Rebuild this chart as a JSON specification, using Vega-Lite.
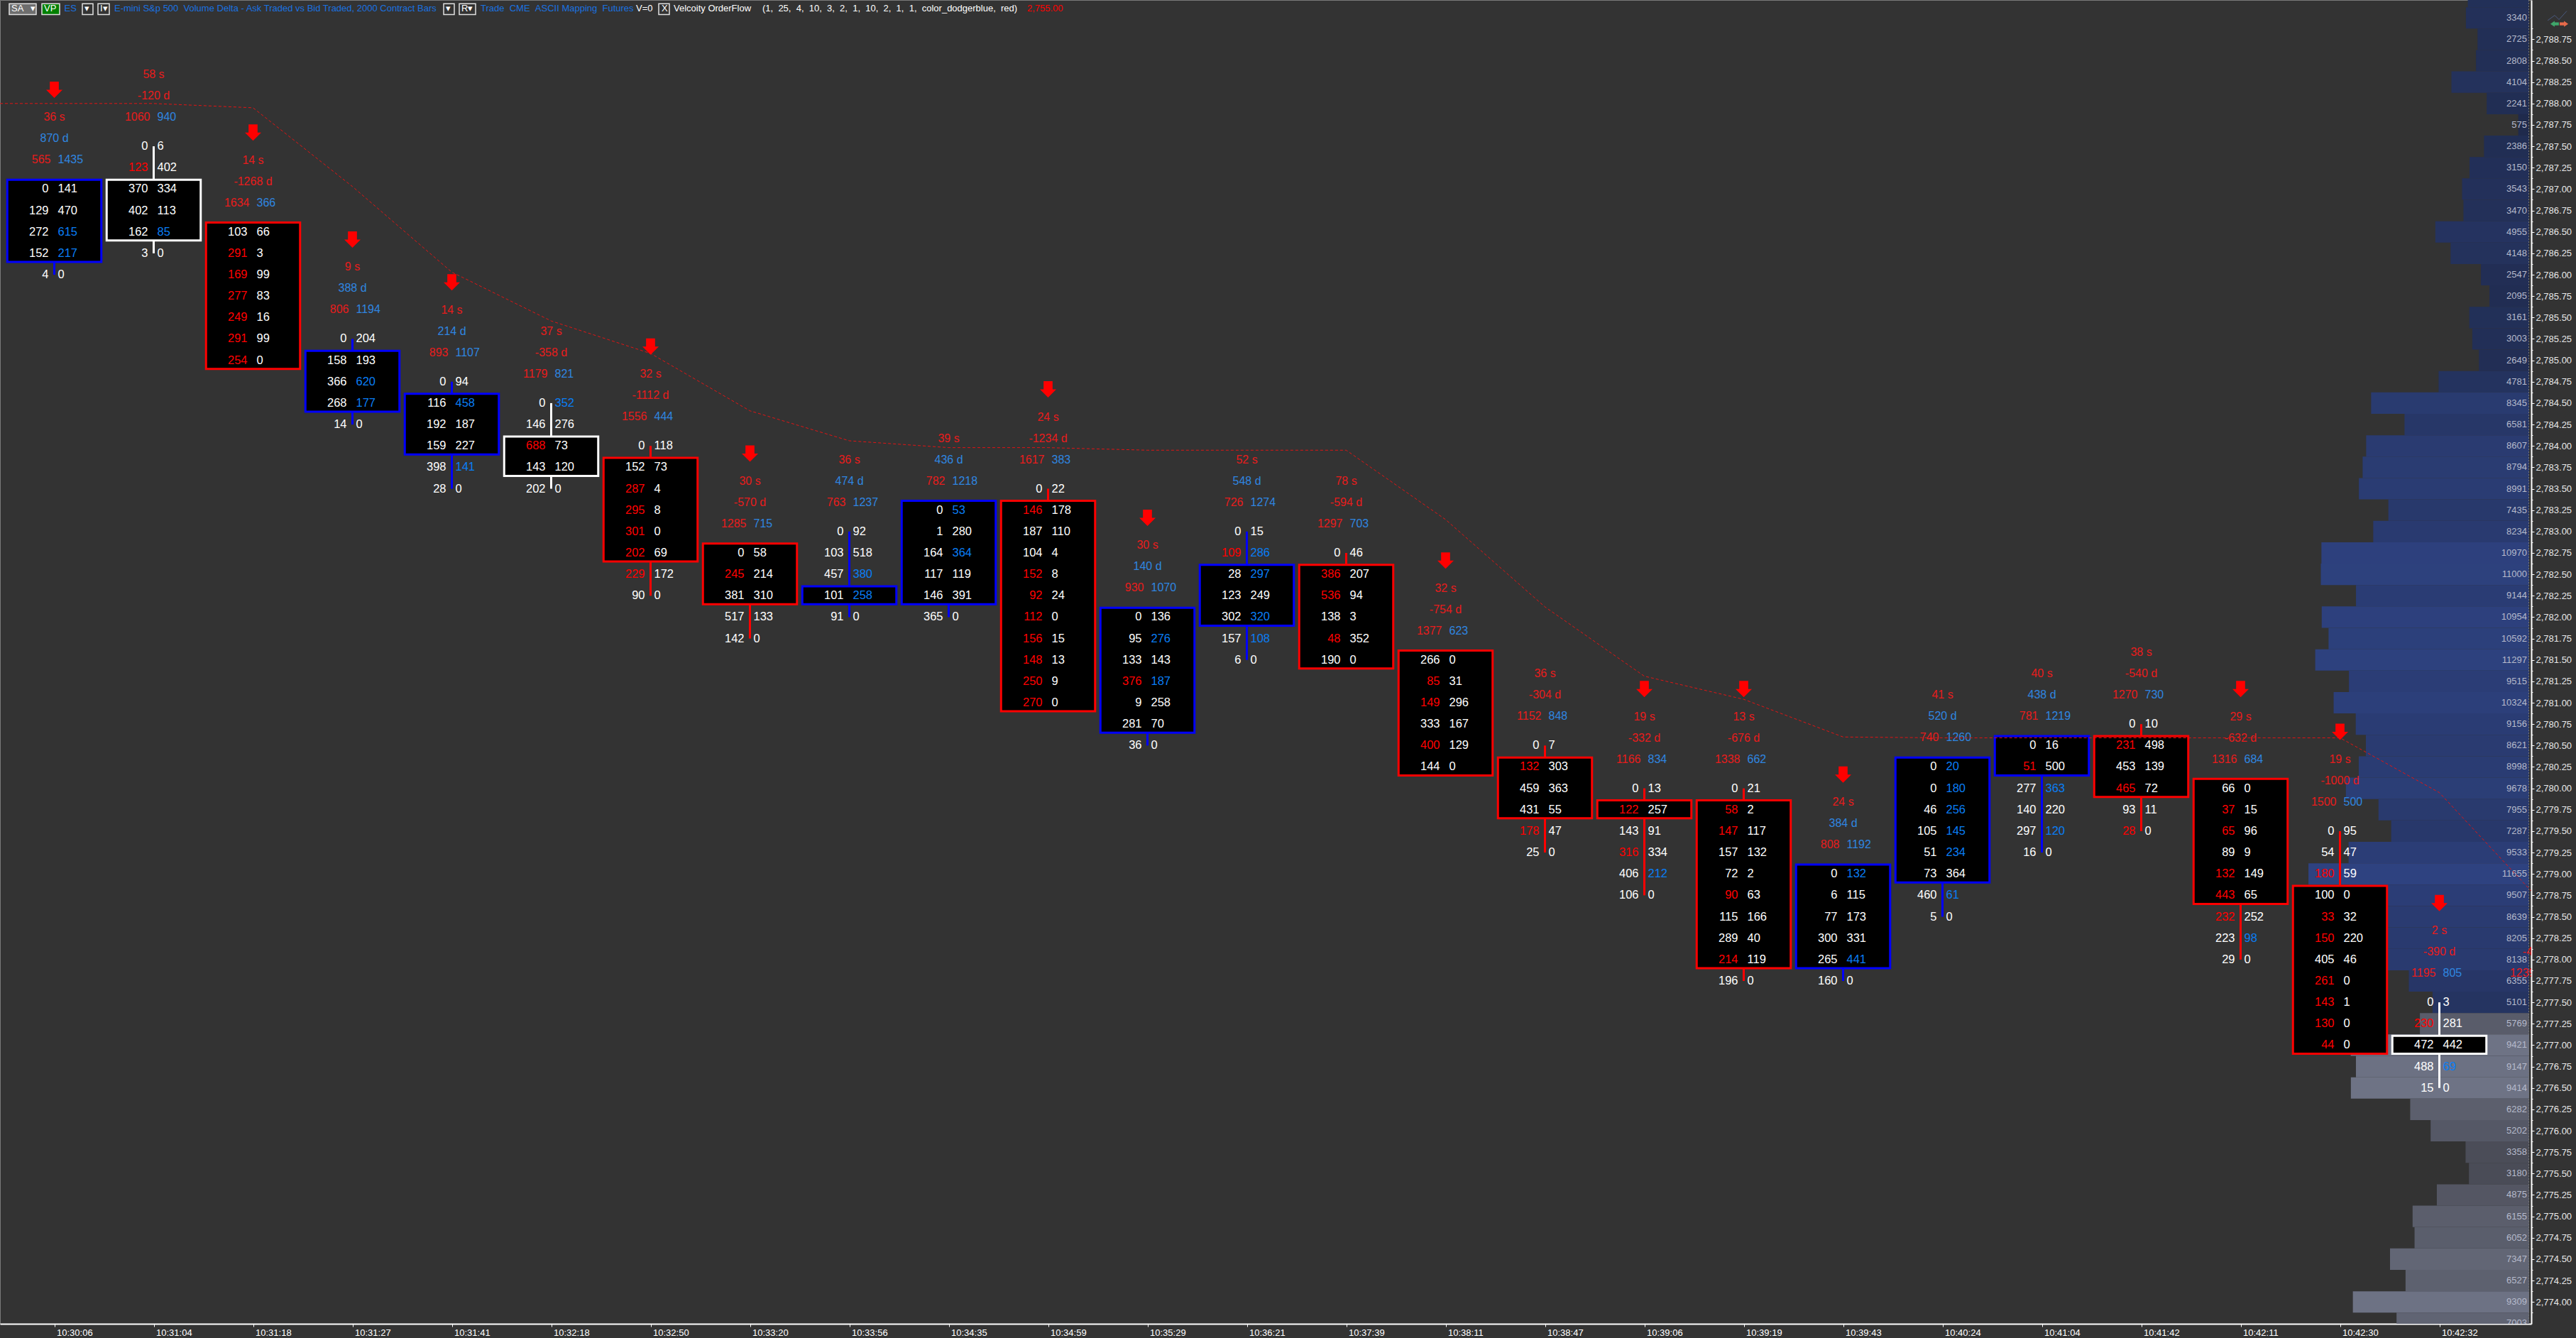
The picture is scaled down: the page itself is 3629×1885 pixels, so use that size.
{"$schema":"https://vega.github.io/schema/vega-lite/v6.json","width":3566,"height":1865,"autosize":{"type":"none"},"padding":{"left":0,"top":0,"right":63,"bottom":20},"background":"#333333","config":{"view":{"stroke":"#7a7a7a","strokeWidth":1},"text":{"font":"Liberation Sans"}},
"datasets":{
"profile":[{"price":2789.25,"top":2789.375,"bottom":2789.125,"volume":3240,"region":"above"},{"price":2789,"top":2789.125,"bottom":2788.875,"volume":3340,"region":"above"},{"price":2788.75,"top":2788.875,"bottom":2788.625,"volume":2725,"region":"above"},{"price":2788.5,"top":2788.625,"bottom":2788.375,"volume":2808,"region":"above"},{"price":2788.25,"top":2788.375,"bottom":2788.125,"volume":4104,"region":"above"},{"price":2788,"top":2788.125,"bottom":2787.875,"volume":2241,"region":"above"},{"price":2787.75,"top":2787.875,"bottom":2787.625,"volume":575,"region":"above"},{"price":2787.5,"top":2787.625,"bottom":2787.375,"volume":2386,"region":"above"},{"price":2787.25,"top":2787.375,"bottom":2787.125,"volume":3150,"region":"above"},{"price":2787,"top":2787.125,"bottom":2786.875,"volume":3543,"region":"above"},{"price":2786.75,"top":2786.875,"bottom":2786.625,"volume":3470,"region":"above"},{"price":2786.5,"top":2786.625,"bottom":2786.375,"volume":4955,"region":"above"},{"price":2786.25,"top":2786.375,"bottom":2786.125,"volume":4148,"region":"above"},{"price":2786,"top":2786.125,"bottom":2785.875,"volume":2547,"region":"above"},{"price":2785.75,"top":2785.875,"bottom":2785.625,"volume":2095,"region":"above"},{"price":2785.5,"top":2785.625,"bottom":2785.375,"volume":3161,"region":"above"},{"price":2785.25,"top":2785.375,"bottom":2785.125,"volume":3003,"region":"above"},{"price":2785,"top":2785.125,"bottom":2784.875,"volume":2649,"region":"above"},{"price":2784.75,"top":2784.875,"bottom":2784.625,"volume":4781,"region":"above"},{"price":2784.5,"top":2784.625,"bottom":2784.375,"volume":8345,"region":"above"},{"price":2784.25,"top":2784.375,"bottom":2784.125,"volume":6581,"region":"above"},{"price":2784,"top":2784.125,"bottom":2783.875,"volume":8607,"region":"above"},{"price":2783.75,"top":2783.875,"bottom":2783.625,"volume":8794,"region":"above"},{"price":2783.5,"top":2783.625,"bottom":2783.375,"volume":8991,"region":"above"},{"price":2783.25,"top":2783.375,"bottom":2783.125,"volume":7435,"region":"above"},{"price":2783,"top":2783.125,"bottom":2782.875,"volume":8234,"region":"above"},{"price":2782.75,"top":2782.875,"bottom":2782.625,"volume":10970,"region":"above"},{"price":2782.5,"top":2782.625,"bottom":2782.375,"volume":11000,"region":"above"},{"price":2782.25,"top":2782.375,"bottom":2782.125,"volume":9144,"region":"above"},{"price":2782,"top":2782.125,"bottom":2781.875,"volume":10954,"region":"above"},{"price":2781.75,"top":2781.875,"bottom":2781.625,"volume":10592,"region":"above"},{"price":2781.5,"top":2781.625,"bottom":2781.375,"volume":11297,"region":"above"},{"price":2781.25,"top":2781.375,"bottom":2781.125,"volume":9515,"region":"above"},{"price":2781,"top":2781.125,"bottom":2780.875,"volume":10324,"region":"above"},{"price":2780.75,"top":2780.875,"bottom":2780.625,"volume":9156,"region":"above"},{"price":2780.5,"top":2780.625,"bottom":2780.375,"volume":8621,"region":"above"},{"price":2780.25,"top":2780.375,"bottom":2780.125,"volume":8998,"region":"above"},{"price":2780,"top":2780.125,"bottom":2779.875,"volume":9678,"region":"above"},{"price":2779.75,"top":2779.875,"bottom":2779.625,"volume":7955,"region":"above"},{"price":2779.5,"top":2779.625,"bottom":2779.375,"volume":7287,"region":"above"},{"price":2779.25,"top":2779.375,"bottom":2779.125,"volume":9533,"region":"above"},{"price":2779,"top":2779.125,"bottom":2778.875,"volume":11655,"region":"above"},{"price":2778.75,"top":2778.875,"bottom":2778.625,"volume":9507,"region":"above"},{"price":2778.5,"top":2778.625,"bottom":2778.375,"volume":8639,"region":"above"},{"price":2778.25,"top":2778.375,"bottom":2778.125,"volume":8205,"region":"above"},{"price":2778,"top":2778.125,"bottom":2777.875,"volume":8138,"region":"above"},{"price":2777.75,"top":2777.875,"bottom":2777.625,"volume":6355,"region":"above"},{"price":2777.5,"top":2777.625,"bottom":2777.375,"volume":5101,"region":"above"},{"price":2777.25,"top":2777.375,"bottom":2777.125,"volume":5769,"region":"below"},{"price":2777,"top":2777.125,"bottom":2776.875,"volume":9421,"region":"below"},{"price":2776.75,"top":2776.875,"bottom":2776.625,"volume":9147,"region":"below"},{"price":2776.5,"top":2776.625,"bottom":2776.375,"volume":9414,"region":"below"},{"price":2776.25,"top":2776.375,"bottom":2776.125,"volume":6282,"region":"below"},{"price":2776,"top":2776.125,"bottom":2775.875,"volume":5202,"region":"below"},{"price":2775.75,"top":2775.875,"bottom":2775.625,"volume":3358,"region":"below"},{"price":2775.5,"top":2775.625,"bottom":2775.375,"volume":3180,"region":"below"},{"price":2775.25,"top":2775.375,"bottom":2775.125,"volume":4875,"region":"below"},{"price":2775,"top":2775.125,"bottom":2774.875,"volume":6155,"region":"below"},{"price":2774.75,"top":2774.875,"bottom":2774.625,"volume":6052,"region":"below"},{"price":2774.5,"top":2774.625,"bottom":2774.375,"volume":7347,"region":"below"},{"price":2774.25,"top":2774.375,"bottom":2774.125,"volume":6527,"region":"below"},{"price":2774,"top":2774.125,"bottom":2773.875,"volume":9309,"region":"below"},{"price":2773.75,"top":2773.875,"bottom":2773.625,"volume":7003,"region":"below"}],
"bars":[
{"time":"10:30:06","price":2787,"low":2786,"box_top":2787.11,"box_bottom":2786.15,"direction":"up","seconds":"36 s","delta":870,"delta_label":"870 d","sell":565,"buy":1435,"arrow":2788.16},
{"time":"10:31:04","price":2787.5,"low":2786.25,"box_top":2787.11,"box_bottom":2786.4,"direction":"flat","seconds":"58 s","delta":-120,"delta_label":"-120 d","sell":1060,"buy":940},
{"time":"10:31:18","price":2786.5,"low":2785,"box_top":2786.61,"box_bottom":2784.9,"direction":"down","seconds":"14 s","delta":-1268,"delta_label":"-1268 d","sell":1634,"buy":366,"arrow":2787.66},
{"time":"10:31:27","price":2785.25,"low":2784.25,"box_top":2785.11,"box_bottom":2784.4,"direction":"up","seconds":"9 s","delta":388,"delta_label":"388 d","sell":806,"buy":1194,"arrow":2786.41},
{"time":"10:31:41","price":2784.75,"low":2783.5,"box_top":2784.61,"box_bottom":2783.9,"direction":"up","seconds":"14 s","delta":214,"delta_label":"214 d","sell":893,"buy":1107,"arrow":2785.91},
{"time":"10:32:18","price":2784.5,"low":2783.5,"box_top":2784.11,"box_bottom":2783.65,"direction":"flat","seconds":"37 s","delta":-358,"delta_label":"-358 d","sell":1179,"buy":821},
{"time":"10:32:50","price":2784,"low":2782.25,"box_top":2783.86,"box_bottom":2782.65,"direction":"down","seconds":"32 s","delta":-1112,"delta_label":"-1112 d","sell":1556,"buy":444,"arrow":2785.16},
{"time":"10:33:20","price":2782.75,"low":2781.75,"box_top":2782.86,"box_bottom":2782.15,"direction":"down","seconds":"30 s","delta":-570,"delta_label":"-570 d","sell":1285,"buy":715,"arrow":2783.91},
{"time":"10:33:56","price":2783,"low":2782,"box_top":2782.36,"box_bottom":2782.15,"direction":"up","seconds":"36 s","delta":474,"delta_label":"474 d","sell":763,"buy":1237},
{"time":"10:34:35","price":2783.25,"low":2782,"box_top":2783.36,"box_bottom":2782.15,"direction":"up","seconds":"39 s","delta":436,"delta_label":"436 d","sell":782,"buy":1218},
{"time":"10:34:59","price":2783.5,"low":2781,"box_top":2783.36,"box_bottom":2780.9,"direction":"down","seconds":"24 s","delta":-1234,"delta_label":"-1234 d","sell":1617,"buy":383,"arrow":2784.66},
{"time":"10:35:29","price":2782,"low":2780.5,"box_top":2782.11,"box_bottom":2780.65,"direction":"up","seconds":"30 s","delta":140,"delta_label":"140 d","sell":930,"buy":1070,"arrow":2783.16},
{"time":"10:36:21","price":2783,"low":2781.5,"box_top":2782.61,"box_bottom":2781.9,"direction":"up","seconds":"52 s","delta":548,"delta_label":"548 d","sell":726,"buy":1274},
{"time":"10:37:39","price":2782.75,"low":2781.5,"box_top":2782.61,"box_bottom":2781.4,"direction":"down","seconds":"78 s","delta":-594,"delta_label":"-594 d","sell":1297,"buy":703},
{"time":"10:38:11","price":2781.5,"low":2780.25,"box_top":2781.61,"box_bottom":2780.15,"direction":"down","seconds":"32 s","delta":-754,"delta_label":"-754 d","sell":1377,"buy":623,"arrow":2782.66},
{"time":"10:38:47","price":2780.5,"low":2779.25,"box_top":2780.36,"box_bottom":2779.65,"direction":"down","seconds":"36 s","delta":-304,"delta_label":"-304 d","sell":1152,"buy":848},
{"time":"10:39:06","price":2780,"low":2778.75,"box_top":2779.86,"box_bottom":2779.65,"direction":"down","seconds":"19 s","delta":-332,"delta_label":"-332 d","sell":1166,"buy":834,"arrow":2781.16},
{"time":"10:39:19","price":2780,"low":2777.75,"box_top":2779.86,"box_bottom":2777.9,"direction":"down","seconds":"13 s","delta":-676,"delta_label":"-676 d","sell":1338,"buy":662,"arrow":2781.16},
{"time":"10:39:43","price":2779,"low":2777.75,"box_top":2779.11,"box_bottom":2777.9,"direction":"up","seconds":"24 s","delta":384,"delta_label":"384 d","sell":808,"buy":1192,"arrow":2780.16},
{"time":"10:40:24","price":2780.25,"low":2778.5,"box_top":2780.36,"box_bottom":2778.9,"direction":"up","seconds":"41 s","delta":520,"delta_label":"520 d","sell":740,"buy":1260},
{"time":"10:41:04","price":2780.5,"low":2779.25,"box_top":2780.61,"box_bottom":2780.15,"direction":"up","seconds":"40 s","delta":438,"delta_label":"438 d","sell":781,"buy":1219},
{"time":"10:41:42","price":2780.75,"low":2779.5,"box_top":2780.61,"box_bottom":2779.9,"direction":"down","seconds":"38 s","delta":-540,"delta_label":"-540 d","sell":1270,"buy":730},
{"time":"10:42:11","price":2780,"low":2778,"box_top":2780.11,"box_bottom":2778.65,"direction":"down","seconds":"29 s","delta":-632,"delta_label":"-632 d","sell":1316,"buy":684,"arrow":2781.16},
{"time":"10:42:30","price":2779.5,"low":2777,"box_top":2778.86,"box_bottom":2776.9,"direction":"down","seconds":"19 s","delta":-1000,"delta_label":"-1000 d","sell":1500,"buy":500,"arrow":2780.66},
{"time":"10:42:32","price":2777.5,"low":2776.5,"box_top":2777.11,"box_bottom":2776.9,"direction":"flat","seconds":"2 s","delta":-390,"delta_label":"-390 d","sell":1195,"buy":805,"arrow":2778.66}],
"cells":[
{"time":"10:30:06","price":2787,"bid":0,"ask":141},{"time":"10:30:06","price":2786.75,"bid":129,"ask":470},{"time":"10:30:06","price":2786.5,"bid":272,"ask":615,"ask_hot":true},{"time":"10:30:06","price":2786.25,"bid":152,"ask":217,"ask_hot":true},{"time":"10:30:06","price":2786,"bid":4,"ask":0},
{"time":"10:31:04","price":2787.5,"bid":0,"ask":6},{"time":"10:31:04","price":2787.25,"bid":123,"ask":402,"bid_hot":true},{"time":"10:31:04","price":2787,"bid":370,"ask":334},{"time":"10:31:04","price":2786.75,"bid":402,"ask":113},{"time":"10:31:04","price":2786.5,"bid":162,"ask":85,"ask_hot":true},{"time":"10:31:04","price":2786.25,"bid":3,"ask":0},
{"time":"10:31:18","price":2786.5,"bid":103,"ask":66},{"time":"10:31:18","price":2786.25,"bid":291,"ask":3,"bid_hot":true},{"time":"10:31:18","price":2786,"bid":169,"ask":99,"bid_hot":true},{"time":"10:31:18","price":2785.75,"bid":277,"ask":83,"bid_hot":true},{"time":"10:31:18","price":2785.5,"bid":249,"ask":16,"bid_hot":true},{"time":"10:31:18","price":2785.25,"bid":291,"ask":99,"bid_hot":true},{"time":"10:31:18","price":2785,"bid":254,"ask":0,"bid_hot":true},
{"time":"10:31:27","price":2785.25,"bid":0,"ask":204},{"time":"10:31:27","price":2785,"bid":158,"ask":193},{"time":"10:31:27","price":2784.75,"bid":366,"ask":620,"ask_hot":true},{"time":"10:31:27","price":2784.5,"bid":268,"ask":177,"ask_hot":true},{"time":"10:31:27","price":2784.25,"bid":14,"ask":0},
{"time":"10:31:41","price":2784.75,"bid":0,"ask":94},{"time":"10:31:41","price":2784.5,"bid":116,"ask":458,"ask_hot":true},{"time":"10:31:41","price":2784.25,"bid":192,"ask":187},{"time":"10:31:41","price":2784,"bid":159,"ask":227},{"time":"10:31:41","price":2783.75,"bid":398,"ask":141,"ask_hot":true},{"time":"10:31:41","price":2783.5,"bid":28,"ask":0},
{"time":"10:32:18","price":2784.5,"bid":0,"ask":352,"ask_hot":true},{"time":"10:32:18","price":2784.25,"bid":146,"ask":276},{"time":"10:32:18","price":2784,"bid":688,"ask":73,"bid_hot":true},{"time":"10:32:18","price":2783.75,"bid":143,"ask":120},{"time":"10:32:18","price":2783.5,"bid":202,"ask":0},
{"time":"10:32:50","price":2784,"bid":0,"ask":118},{"time":"10:32:50","price":2783.75,"bid":152,"ask":73},{"time":"10:32:50","price":2783.5,"bid":287,"ask":4,"bid_hot":true},{"time":"10:32:50","price":2783.25,"bid":295,"ask":8,"bid_hot":true},{"time":"10:32:50","price":2783,"bid":301,"ask":0,"bid_hot":true},{"time":"10:32:50","price":2782.75,"bid":202,"ask":69,"bid_hot":true},{"time":"10:32:50","price":2782.5,"bid":229,"ask":172,"bid_hot":true},{"time":"10:32:50","price":2782.25,"bid":90,"ask":0},
{"time":"10:33:20","price":2782.75,"bid":0,"ask":58},{"time":"10:33:20","price":2782.5,"bid":245,"ask":214,"bid_hot":true},{"time":"10:33:20","price":2782.25,"bid":381,"ask":310},{"time":"10:33:20","price":2782,"bid":517,"ask":133},{"time":"10:33:20","price":2781.75,"bid":142,"ask":0},
{"time":"10:33:56","price":2783,"bid":0,"ask":92},{"time":"10:33:56","price":2782.75,"bid":103,"ask":518},{"time":"10:33:56","price":2782.5,"bid":457,"ask":380,"ask_hot":true},{"time":"10:33:56","price":2782.25,"bid":101,"ask":258,"ask_hot":true},{"time":"10:33:56","price":2782,"bid":91,"ask":0},
{"time":"10:34:35","price":2783.25,"bid":0,"ask":53,"ask_hot":true},{"time":"10:34:35","price":2783,"bid":1,"ask":280},{"time":"10:34:35","price":2782.75,"bid":164,"ask":364,"ask_hot":true},{"time":"10:34:35","price":2782.5,"bid":117,"ask":119},{"time":"10:34:35","price":2782.25,"bid":146,"ask":391},{"time":"10:34:35","price":2782,"bid":365,"ask":0},
{"time":"10:34:59","price":2783.5,"bid":0,"ask":22},{"time":"10:34:59","price":2783.25,"bid":146,"ask":178,"bid_hot":true},{"time":"10:34:59","price":2783,"bid":187,"ask":110},{"time":"10:34:59","price":2782.75,"bid":104,"ask":4},{"time":"10:34:59","price":2782.5,"bid":152,"ask":8,"bid_hot":true},{"time":"10:34:59","price":2782.25,"bid":92,"ask":24,"bid_hot":true},{"time":"10:34:59","price":2782,"bid":112,"ask":0,"bid_hot":true},{"time":"10:34:59","price":2781.75,"bid":156,"ask":15,"bid_hot":true},{"time":"10:34:59","price":2781.5,"bid":148,"ask":13,"bid_hot":true},{"time":"10:34:59","price":2781.25,"bid":250,"ask":9,"bid_hot":true},{"time":"10:34:59","price":2781,"bid":270,"ask":0,"bid_hot":true},
{"time":"10:35:29","price":2782,"bid":0,"ask":136},{"time":"10:35:29","price":2781.75,"bid":95,"ask":276,"ask_hot":true},{"time":"10:35:29","price":2781.5,"bid":133,"ask":143},{"time":"10:35:29","price":2781.25,"bid":376,"ask":187,"bid_hot":true,"ask_hot":true},{"time":"10:35:29","price":2781,"bid":9,"ask":258},{"time":"10:35:29","price":2780.75,"bid":281,"ask":70},{"time":"10:35:29","price":2780.5,"bid":36,"ask":0},
{"time":"10:36:21","price":2783,"bid":0,"ask":15},{"time":"10:36:21","price":2782.75,"bid":109,"ask":286,"bid_hot":true,"ask_hot":true},{"time":"10:36:21","price":2782.5,"bid":28,"ask":297,"ask_hot":true},{"time":"10:36:21","price":2782.25,"bid":123,"ask":249},{"time":"10:36:21","price":2782,"bid":302,"ask":320,"ask_hot":true},{"time":"10:36:21","price":2781.75,"bid":157,"ask":108,"ask_hot":true},{"time":"10:36:21","price":2781.5,"bid":6,"ask":0},
{"time":"10:37:39","price":2782.75,"bid":0,"ask":46},{"time":"10:37:39","price":2782.5,"bid":386,"ask":207,"bid_hot":true},{"time":"10:37:39","price":2782.25,"bid":536,"ask":94,"bid_hot":true},{"time":"10:37:39","price":2782,"bid":138,"ask":3},{"time":"10:37:39","price":2781.75,"bid":48,"ask":352,"bid_hot":true},{"time":"10:37:39","price":2781.5,"bid":190,"ask":0},
{"time":"10:38:11","price":2781.5,"bid":266,"ask":0},{"time":"10:38:11","price":2781.25,"bid":85,"ask":31,"bid_hot":true},{"time":"10:38:11","price":2781,"bid":149,"ask":296,"bid_hot":true},{"time":"10:38:11","price":2780.75,"bid":333,"ask":167},{"time":"10:38:11","price":2780.5,"bid":400,"ask":129,"bid_hot":true},{"time":"10:38:11","price":2780.25,"bid":144,"ask":0},
{"time":"10:38:47","price":2780.5,"bid":0,"ask":7},{"time":"10:38:47","price":2780.25,"bid":132,"ask":303,"bid_hot":true},{"time":"10:38:47","price":2780,"bid":459,"ask":363},{"time":"10:38:47","price":2779.75,"bid":431,"ask":55},{"time":"10:38:47","price":2779.5,"bid":178,"ask":47,"bid_hot":true},{"time":"10:38:47","price":2779.25,"bid":25,"ask":0},
{"time":"10:39:06","price":2780,"bid":0,"ask":13},{"time":"10:39:06","price":2779.75,"bid":122,"ask":257,"bid_hot":true},{"time":"10:39:06","price":2779.5,"bid":143,"ask":91},{"time":"10:39:06","price":2779.25,"bid":316,"ask":334,"bid_hot":true},{"time":"10:39:06","price":2779,"bid":406,"ask":212,"ask_hot":true},{"time":"10:39:06","price":2778.75,"bid":106,"ask":0},
{"time":"10:39:19","price":2780,"bid":0,"ask":21},{"time":"10:39:19","price":2779.75,"bid":58,"ask":2,"bid_hot":true},{"time":"10:39:19","price":2779.5,"bid":147,"ask":117,"bid_hot":true},{"time":"10:39:19","price":2779.25,"bid":157,"ask":132},{"time":"10:39:19","price":2779,"bid":72,"ask":2},{"time":"10:39:19","price":2778.75,"bid":90,"ask":63,"bid_hot":true},{"time":"10:39:19","price":2778.5,"bid":115,"ask":166},{"time":"10:39:19","price":2778.25,"bid":289,"ask":40},{"time":"10:39:19","price":2778,"bid":214,"ask":119,"bid_hot":true},{"time":"10:39:19","price":2777.75,"bid":196,"ask":0},
{"time":"10:39:43","price":2779,"bid":0,"ask":132,"ask_hot":true},{"time":"10:39:43","price":2778.75,"bid":6,"ask":115},{"time":"10:39:43","price":2778.5,"bid":77,"ask":173},{"time":"10:39:43","price":2778.25,"bid":300,"ask":331},{"time":"10:39:43","price":2778,"bid":265,"ask":441,"ask_hot":true},{"time":"10:39:43","price":2777.75,"bid":160,"ask":0},
{"time":"10:40:24","price":2780.25,"bid":0,"ask":20,"ask_hot":true},{"time":"10:40:24","price":2780,"bid":0,"ask":180,"ask_hot":true},{"time":"10:40:24","price":2779.75,"bid":46,"ask":256,"ask_hot":true},{"time":"10:40:24","price":2779.5,"bid":105,"ask":145,"ask_hot":true},{"time":"10:40:24","price":2779.25,"bid":51,"ask":234,"ask_hot":true},{"time":"10:40:24","price":2779,"bid":73,"ask":364},{"time":"10:40:24","price":2778.75,"bid":460,"ask":61,"ask_hot":true},{"time":"10:40:24","price":2778.5,"bid":5,"ask":0},
{"time":"10:41:04","price":2780.5,"bid":0,"ask":16},{"time":"10:41:04","price":2780.25,"bid":51,"ask":500,"bid_hot":true},{"time":"10:41:04","price":2780,"bid":277,"ask":363,"ask_hot":true},{"time":"10:41:04","price":2779.75,"bid":140,"ask":220},{"time":"10:41:04","price":2779.5,"bid":297,"ask":120,"ask_hot":true},{"time":"10:41:04","price":2779.25,"bid":16,"ask":0},
{"time":"10:41:42","price":2780.75,"bid":0,"ask":10},{"time":"10:41:42","price":2780.5,"bid":231,"ask":498,"bid_hot":true},{"time":"10:41:42","price":2780.25,"bid":453,"ask":139},{"time":"10:41:42","price":2780,"bid":465,"ask":72,"bid_hot":true},{"time":"10:41:42","price":2779.75,"bid":93,"ask":11},{"time":"10:41:42","price":2779.5,"bid":28,"ask":0,"bid_hot":true},
{"time":"10:42:11","price":2780,"bid":66,"ask":0},{"time":"10:42:11","price":2779.75,"bid":37,"ask":15,"bid_hot":true},{"time":"10:42:11","price":2779.5,"bid":65,"ask":96,"bid_hot":true},{"time":"10:42:11","price":2779.25,"bid":89,"ask":9},{"time":"10:42:11","price":2779,"bid":132,"ask":149,"bid_hot":true},{"time":"10:42:11","price":2778.75,"bid":443,"ask":65,"bid_hot":true},{"time":"10:42:11","price":2778.5,"bid":232,"ask":252,"bid_hot":true},{"time":"10:42:11","price":2778.25,"bid":223,"ask":98,"ask_hot":true},{"time":"10:42:11","price":2778,"bid":29,"ask":0},
{"time":"10:42:30","price":2779.5,"bid":0,"ask":95},{"time":"10:42:30","price":2779.25,"bid":54,"ask":47},{"time":"10:42:30","price":2779,"bid":180,"ask":59,"bid_hot":true},{"time":"10:42:30","price":2778.75,"bid":100,"ask":0},{"time":"10:42:30","price":2778.5,"bid":33,"ask":32,"bid_hot":true},{"time":"10:42:30","price":2778.25,"bid":150,"ask":220,"bid_hot":true},{"time":"10:42:30","price":2778,"bid":405,"ask":46},{"time":"10:42:30","price":2777.75,"bid":261,"ask":0,"bid_hot":true},{"time":"10:42:30","price":2777.5,"bid":143,"ask":1,"bid_hot":true},{"time":"10:42:30","price":2777.25,"bid":130,"ask":0,"bid_hot":true},{"time":"10:42:30","price":2777,"bid":44,"ask":0,"bid_hot":true},
{"time":"10:42:32","price":2777.5,"bid":0,"ask":3},{"time":"10:42:32","price":2777.25,"bid":230,"ask":281,"bid_hot":true},{"time":"10:42:32","price":2777,"bid":472,"ask":442},{"time":"10:42:32","price":2776.75,"bid":488,"ask":69,"ask_hot":true},{"time":"10:42:32","price":2776.5,"bid":15,"ask":0}],
"trend":[{"idx":-0.5464,"price":2788},{"idx":0,"price":2788},{"idx":1,"price":2788},{"idx":2,"price":2787.95},{"idx":3,"price":2787.03},{"idx":4,"price":2786.03},{"idx":5,"price":2785.46},{"idx":6,"price":2785.08},{"idx":7,"price":2784.41},{"idx":8,"price":2784.06},{"idx":9,"price":2783.98},{"idx":10,"price":2783.98},{"idx":11,"price":2783.95},{"idx":12,"price":2783.95},{"idx":13,"price":2783.95},{"idx":14,"price":2783.14},{"idx":15,"price":2782.12},{"idx":16,"price":2781.31},{"idx":17,"price":2781.04},{"idx":18,"price":2780.6},{"idx":19,"price":2780.59},{"idx":20,"price":2780.59},{"idx":21,"price":2780.59},{"idx":22,"price":2780.59},{"idx":23,"price":2780.59},{"idx":24,"price":2779.95},{"idx":24.925,"price":2778.8}],
"buttons":[{"start":-0.4536,"end":-0.1821,"price":2789.165,"bottom":2789.038,"kind":"gray"},{"start":-0.125,"end":0.0536,"price":2789.165,"bottom":2789.038,"kind":"green"},{"start":0.2821,"end":0.3893,"price":2789.165,"bottom":2789.038,"kind":"plain"},{"start":0.4393,"end":0.5536,"price":2789.165,"bottom":2789.038,"kind":"plain"},{"start":3.9179,"end":4.025,"price":2789.165,"bottom":2789.038,"kind":"plain"},{"start":4.075,"end":4.2393,"price":2789.165,"bottom":2789.038,"kind":"plain"},{"start":6.0821,"end":6.1893,"price":2789.165,"bottom":2789.038,"kind":"plain"}],
"header":[{"idx":-0.4321,"price":2789.11,"label":"SA","tone":"white"},{"idx":-0.2393,"price":2789.11,"label":"▾","tone":"white"},{"idx":-0.1036,"price":2789.11,"label":"VP","tone":"white"},{"idx":0.1007,"price":2789.11,"label":"ES","tone":"blue"},{"idx":0.3036,"price":2789.11,"label":"▾","tone":"white"},{"idx":0.4607,"price":2789.11,"label":"I▾","tone":"white"},{"idx":0.6036,"price":2789.11,"label":"E-mini S&p 500\u00a0\u00a0Volume Delta - Ask Traded vs Bid Traded, 2000 Contract Bars","tone":"blue"},{"idx":3.9393,"price":2789.11,"label":"▾","tone":"white"},{"idx":4.0964,"price":2789.11,"label":"R▾","tone":"white"},{"idx":4.2893,"price":2789.11,"label":"Trade\u00a0\u00a0CME\u00a0\u00a0ASCII Mapping\u00a0\u00a0Futures","tone":"blue"},{"idx":5.854,"price":2789.11,"label":"V=0","tone":"white"},{"idx":6.1107,"price":2789.11,"label":"X","tone":"white"},{"idx":6.232,"price":2789.11,"label":"Velcoity OrderFlow","tone":"white"},{"idx":7.125,"price":2789.11,"label":"(1,\u00a0\u00a025,\u00a0\u00a04,\u00a0\u00a010,\u00a0\u00a03,\u00a0\u00a02,\u00a0\u00a01,\u00a0\u00a010,\u00a0\u00a02,\u00a0\u00a01,\u00a0\u00a01,\u00a0\u00a0color_dodgerblue,\u00a0\u00a0red)","tone":"white"},{"idx":9.789,"price":2789.11,"label":"2,755.00","tone":"red"}],
"nextbar":[{"idx":25,"price":2777.5,"sell":1239,"delta_label":"-478 d"}],
"icon_arrows":[{"idx":25.16,"price":2788.93,"side":"left"},{"idx":25.254,"price":2788.93,"side":"right"}],
"icon_line":[{"idx":25.09,"price":2788.97},{"idx":25.161,"price":2789.03},{"idx":25.204,"price":2788.98},{"idx":25.282,"price":2789.08}]
},
"encoding":{"y":{"field":"price","type":"quantitative","scale":{"domain":[2773.745,2789.209],"nice":false,"zero":false},"axis":null}},
"layer":[
{"data":{"name":"profile"},
"encoding":{"x":{"field":"volume","type":"quantitative","scale":{"domain":[133546,-112],"nice":false,"zero":false},"axis":null}},
"layer":[
{"transform":[{"filter":"datum.region=='above'"}],"mark":{"type":"rect","clip":true},"encoding":{"x2":{"datum":0},"y":{"field":"top","type":"quantitative","scale":{"domain":[2773.745,2789.209],"nice":false,"zero":false},"axis":{"orient":"right","title":null,"grid":false,"values":[2788.75,2788.5,2788.25,2788,2787.75,2787.5,2787.25,2787,2786.75,2786.5,2786.25,2786,2785.75,2785.5,2785.25,2785,2784.75,2784.5,2784.25,2784,2783.75,2783.5,2783.25,2783,2782.75,2782.5,2782.25,2782,2781.75,2781.5,2781.25,2781,2780.75,2780.5,2780.25,2780,2779.75,2779.5,2779.25,2779,2778.75,2778.5,2778.25,2778,2777.75,2777.5,2777.25,2777,2776.75,2776.5,2776.25,2776,2775.75,2775.5,2775.25,2775,2774.75,2774.5,2774.25,2774],"format":",.2f","labelFont":"Liberation Sans","labelFontSize":13,"labelColor":"#e8e8e8","labelPadding":2,"labelOverlap":false,"labelBound":false,"labelFlush":false,"tickColor":"#ffffff","tickSize":4,"tickWidth":1,"domainColor":"#ffffff","domainWidth":2}},"y2":{"field":"bottom"},"color":{"field":"volume","type":"quantitative","scale":{"domain":[575,11655],"range":["#1f2a4c","#2e4280"]},"legend":null}}},
{"transform":[{"filter":"datum.region=='below'"}],"mark":{"type":"rect","clip":true},"encoding":{"x2":{"datum":0},"y":{"field":"top","type":"quantitative","scale":{"domain":[2773.745,2789.209],"nice":false,"zero":false},"axis":null},"y2":{"field":"bottom"},"color":{"field":"volume","type":"quantitative","scale":{"domain":[3180,9421],"range":["#4a4c57","#6e7385"]},"legend":null}}},
{"transform":[{"filter":"datum.price<2789.2"}],"mark":{"type":"text","clip":true,"align":"right","baseline":"middle","dx":-3,"fontSize":13,"color":"#b6bacb"},"encoding":{"x":{"datum":0},"text":{"field":"volume","type":"quantitative","format":"d"}}}
],"resolve":{"scale":{"color":"independent"},"axis":{"y":"independent"}}},
{"encoding":{"x":{"field":"time","type":"ordinal","scale":{"type":"point","padding":0.7357,"align":0.3714,"domain":["10:30:06","10:31:04","10:31:18","10:31:27","10:31:41","10:32:18","10:32:50","10:33:20","10:33:56","10:34:35","10:34:59","10:35:29","10:36:21","10:37:39","10:38:11","10:38:47","10:39:06","10:39:19","10:39:43","10:40:24","10:41:04","10:41:42","10:42:11","10:42:30","10:42:32"]},"axis":{"orient":"bottom","title":null,"grid":false,"labelAngle":0,"labelAlign":"left","labelBaseline":"top","labelOffset":3,"labelPadding":2,"labelFont":"Liberation Sans","labelFontSize":13,"labelColor":"#ffffff","labelOverlap":false,"labelBound":false,"labelFlush":false,"tickColor":"#ffffff","tickSize":4,"domainColor":"#ffffff","domainWidth":2}}},
"layer":[
{"data":{"name":"bars"},"mark":{"type":"rule","strokeWidth":3},"encoding":{"y2":{"field":"low"},"color":{"field":"direction","type":"nominal","scale":{"domain":["up","down","flat"],"range":["#0000ff","#ff0000","#ffffff"]},"legend":null}}},
{"data":{"name":"bars"},"mark":{"type":"rect","fill":"#000000","strokeWidth":3,"width":132.5},"encoding":{"y":{"field":"box_top","type":"quantitative","scale":{"domain":[2773.745,2789.209],"nice":false,"zero":false},"axis":null},"y2":{"field":"box_bottom"},"stroke":{"field":"direction","type":"nominal","scale":{"domain":["up","down","flat"],"range":["#0000ff","#ff0000","#ffffff"]},"legend":null}}},
{"data":{"name":"cells"},"mark":{"type":"text","align":"right","baseline":"middle","dx":-8,"fontSize":16.5},"encoding":{"text":{"field":"bid","type":"quantitative","format":"d"},"color":{"condition":{"test":"datum.bid_hot===true","value":"#ff0000"},"value":"#ffffff"}}},
{"data":{"name":"cells"},"mark":{"type":"text","align":"left","baseline":"middle","dx":5,"fontSize":16.5},"encoding":{"text":{"field":"ask","type":"quantitative","format":"d"},"color":{"condition":{"test":"datum.ask_hot===true","value":"#0a7ef5"},"value":"#ffffff"}}},
{"data":{"name":"bars"},"mark":{"type":"text","align":"center","baseline":"middle","dy":-101,"fontSize":16,"color":"#e81c1c"},"encoding":{"text":{"field":"seconds","type":"nominal"}}},
{"data":{"name":"bars"},"mark":{"type":"text","align":"center","baseline":"middle","dy":-71,"fontSize":16},"encoding":{"text":{"field":"delta_label","type":"nominal"},"color":{"condition":{"test":"datum.delta<0","value":"#e81c1c"},"value":"#2f86e0"}}},
{"data":{"name":"bars"},"mark":{"type":"text","align":"right","baseline":"middle","dy":-41,"dx":-5,"fontSize":16,"color":"#e81c1c"},"encoding":{"text":{"field":"sell","type":"quantitative","format":"d"}}},
{"data":{"name":"bars"},"mark":{"type":"text","align":"left","baseline":"middle","dy":-41,"dx":5,"fontSize":16,"color":"#2f86e0"},"encoding":{"text":{"field":"buy","type":"quantitative","format":"d"}}},
{"data":{"name":"bars"},"transform":[{"filter":"isValid(datum.arrow)"}],"mark":{"type":"point","filled":true,"opacity":1,"size":529,"color":"#ff0000","strokeWidth":0,"shape":"M-0.55,-1L0.55,-1L0.55,0L1,0L0,1L-1,0L-0.55,0Z"},"encoding":{"y":{"field":"arrow","type":"quantitative","scale":{"domain":[2773.745,2789.209],"nice":false,"zero":false},"axis":null}}}
],"resolve":{"axis":{"y":"independent"}}},
{"encoding":{"x":{"field":"idx","type":"quantitative","scale":{"domain":[-0.5464,24.925],"nice":false,"zero":false},"axis":null}},
"layer":[
{"data":{"values":[{"idx":24.9}]},"mark":{"type":"rule","color":"#777777","strokeWidth":1,"strokeDash":[2,2]},"encoding":{"x":{"field":"idx","type":"quantitative","scale":{"domain":[-0.5464,24.925],"nice":false,"zero":false},"axis":null},"y":{"value":0},"y2":{"value":1865}}},
{"data":{"name":"trend"},"mark":{"type":"line","color":"#e01414","strokeWidth":1,"strokeDash":[4,3],"clip":true},"encoding":{}},
{"data":{"name":"buttons"},"mark":{"type":"rect","stroke":"#e0e0e0","strokeWidth":1.5},"encoding":{"x":{"field":"start","type":"quantitative","scale":{"domain":[-0.5464,24.925],"nice":false,"zero":false},"axis":null},"x2":{"field":"end"},"y2":{"field":"bottom"},"fill":{"field":"kind","type":"nominal","scale":{"domain":["gray","green","plain"],"range":["#6e6e6e","#008000","#333333"]},"legend":null}}},
{"data":{"name":"header"},"mark":{"type":"text","align":"left","baseline":"middle","fontSize":13},"encoding":{"text":{"field":"label","type":"nominal"},"color":{"field":"tone","type":"nominal","scale":{"domain":["white","blue","red"],"range":["#ffffff","#1a72e0","#ff0000"]},"legend":null}}},
{"data":{"name":"nextbar"},"mark":{"type":"text","clip":true,"align":"right","baseline":"middle","dy":-41,"dx":-5,"fontSize":16,"color":"#e81c1c"},"encoding":{"text":{"field":"sell","type":"quantitative","format":"d"}}},
{"data":{"name":"nextbar"},"mark":{"type":"text","clip":true,"align":"center","baseline":"middle","dy":-71,"fontSize":16,"color":"#e81c1c"},"encoding":{"text":{"field":"delta_label","type":"nominal"}}},
{"data":{"name":"icon_line"},"mark":{"type":"line","color":"#4a5a80","strokeWidth":1},"encoding":{}},
{"data":{"name":"icon_arrows"},"transform":[{"filter":"datum.side=='left'"}],"mark":{"type":"point","filled":true,"opacity":1,"size":144,"color":"#3fa66a","strokeWidth":0,"shape":"M1,-0.35L0,-0.35L0,-0.7L-1,0L0,0.7L0,0.35L1,0.35Z"},"encoding":{}},
{"data":{"name":"icon_arrows"},"transform":[{"filter":"datum.side=='right'"}],"mark":{"type":"point","filled":true,"opacity":1,"size":144,"color":"#e66a4a","strokeWidth":0,"shape":"M-1,-0.35L0,-0.35L0,-0.7L1,0L0,0.7L0,0.35L-1,0.35Z"},"encoding":{}},
{"data":{"values":[{"idx":0,"price":2780}]},"mark":{"type":"point","opacity":0},"encoding":{"y":{"field":"price","type":"quantitative","scale":{"domain":[2773.745,2789.209],"nice":false,"zero":false},"axis":{"orient":"right","title":null,"grid":false,"labels":false,"domain":false,"tickColor":"#ffffff","tickSize":2,"tickWidth":1,"values":[2788.875,2788.625,2788.375,2788.125,2787.875,2787.625,2787.375,2787.125,2786.875,2786.625,2786.375,2786.125,2785.875,2785.625,2785.375,2785.125,2784.875,2784.625,2784.375,2784.125,2783.875,2783.625,2783.375,2783.125,2782.875,2782.625,2782.375,2782.125,2781.875,2781.625,2781.375,2781.125,2780.875,2780.625,2780.375,2780.125,2779.875,2779.625,2779.375,2779.125,2778.875,2778.625,2778.375,2778.125,2777.875,2777.625,2777.375,2777.125,2776.875,2776.625,2776.375,2776.125,2775.875,2775.625,2775.375,2775.125,2774.875,2774.625,2774.375,2774.125,2773.875]}}}}
],"resolve":{"axis":{"y":"independent"},"scale":{"color":"independent"}}}
],
"resolve":{"scale":{"x":"independent","color":"independent"},"axis":{"x":"independent","y":"independent"}}}
